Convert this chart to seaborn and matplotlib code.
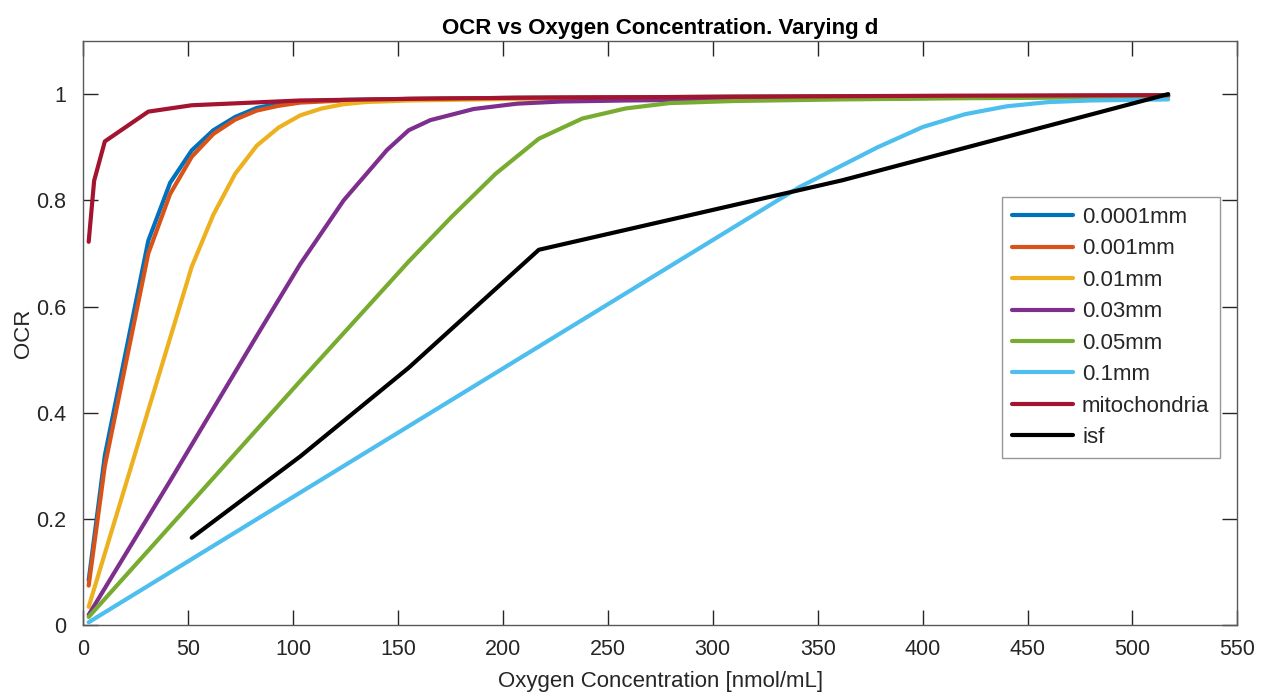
import numpy as np
import pandas as pd
import matplotlib
matplotlib.use("Agg")
import matplotlib.pyplot as plt
import seaborn as sns

# Oxygen concentration [nmol/mL] and normalised OCR for each diffusion distance d
x_0001 = [2.6, 10.3, 31.0, 41.4, 51.7, 62.0, 72.4, 82.7, 93.1, 103.4, 124.1, 155.1, 206.8, 310.2, 413.6, 517.0]
y_0001 = [0.085, 0.32, 0.724, 0.833, 0.894, 0.932, 0.957, 0.974, 0.982, 0.986, 0.989, 0.991, 0.993, 0.995, 0.996, 0.997]

x_001 = [2.6, 10.3, 31.0, 41.4, 51.7, 62.0, 72.4, 82.7, 93.1, 103.4, 124.1, 155.1, 206.8, 310.2, 413.6, 517.0]
y_001 = [0.075, 0.30, 0.70, 0.812, 0.882, 0.925, 0.952, 0.969, 0.978, 0.984, 0.988, 0.991, 0.993, 0.995, 0.996, 0.997]

x_01 = [2.6, 51.7, 62.0, 72.4, 82.7, 93.1, 103.4, 113.7, 124.1, 134.4, 155.1, 206.8, 310.2, 413.6, 517.0]
y_01 = [0.035, 0.675, 0.773, 0.850, 0.903, 0.937, 0.960, 0.973, 0.981, 0.985, 0.988, 0.991, 0.994, 0.995, 0.997]

x_03 = [2.6, 41.4, 82.7, 103.4, 124.1, 144.8, 155.1, 165.4, 186.1, 206.8, 227.5, 258.5, 310.2, 413.6, 517.0]
y_03 = [0.02, 0.272, 0.545, 0.68, 0.80, 0.895, 0.932, 0.951, 0.972, 0.982, 0.986, 0.988, 0.990, 0.993, 0.996]

x_05 = [2.6, 51.7, 103.4, 155.1, 175.8, 196.5, 217.1, 237.8, 258.5, 279.2, 310.2, 361.9, 413.6, 517.0]
y_05 = [0.016, 0.232, 0.46, 0.685, 0.77, 0.85, 0.916, 0.954, 0.973, 0.983, 0.987, 0.990, 0.992, 0.995]

x_1 = [2.6, 103.4, 206.8, 310.2, 341.3, 378.6, 400.0, 420.0, 440.0, 460.0, 480.0, 517.0]
y_1 = [0.006, 0.25, 0.50, 0.75, 0.825, 0.900, 0.938, 0.962, 0.977, 0.985, 0.988, 0.99]

x_mito = [2.6, 5.2, 10.3, 31.0, 51.7, 103.4, 155.1, 206.8, 310.2, 413.6, 517.0]
y_mito = [0.722, 0.837, 0.911, 0.967, 0.979, 0.988, 0.991, 0.993, 0.995, 0.997, 0.998]

x_isf = [51.7, 103.4, 155.1, 217.1, 361.9, 517.0]
y_isf = [0.165, 0.318, 0.485, 0.707, 0.838, 1.0]

series_names = ["0.0001mm", "0.001mm", "0.01mm", "0.03mm", "0.05mm", "0.1mm", "mitochondria", "isf"]
series_x = [x_0001, x_001, x_01, x_03, x_05, x_1, x_mito, x_isf]
series_y = [y_0001, y_001, y_01, y_03, y_05, y_1, y_mito, y_isf]
series_colors = ["#0072BD", "#D95319", "#EDB120", "#7E2F8E", "#77AC30", "#4DBEEE", "#A2142F", "#000000"]

x_ticks = [0, 50, 100, 150, 200, 250, 300, 350, 400, 450, 500, 550]
y_ticks = [0, 0.2, 0.4, 0.6, 0.8, 1.0]
y_tick_labels = ["0", "0.2", "0.4", "0.6", "0.8", "1"]

frames = []
for name, xs, ys in zip(series_names, series_x, series_y):
    frames.append(pd.DataFrame({"conc": xs, "ocr": ys, "d": name}))
df = pd.concat(frames, ignore_index=True)

sns.set_style("white")
plt.rcParams["font.family"] = ["Liberation Sans", "DejaVu Sans"]

fig = plt.figure(figsize=(12.61, 6.92), dpi=100)
ax = fig.add_axes([0.066, 0.0962, 0.9153, 0.8446])

palette = dict(zip(series_names, series_colors))
# one call per series, in order, so later curves are drawn on top
for name in series_names:
    sub = df[df["d"] == name]
    sns.lineplot(data=sub, x="conc", y="ocr", color=palette[name], sort=False,
                 estimator=None, linewidth=3.0, ax=ax, label=name)

ax.set_xlim(0, 550)
ax.set_ylim(0, 1.1)
ax.set_xticks(x_ticks)
ax.set_yticks(y_ticks)
ax.set_yticklabels(y_tick_labels)

edge = "#262626"
for s in ax.spines.values():
    s.set_visible(True)
    s.set_color("#595959")
    s.set_linewidth(1.0)
ax.tick_params(axis="both", which="both", direction="in", length=11, width=1.0,
               color=edge, labelsize=15.5, labelcolor=edge,
               top=True, right=True, bottom=True, left=True)
ax.tick_params(axis="x", pad=10)
ax.tick_params(axis="y", pad=12)

ax.set_xlabel("Oxygen Concentration [nmol/mL]", fontsize=16, color=edge, labelpad=8)
ax.set_ylabel("OCR", fontsize=16, color=edge, labelpad=2)
ax.set_title("OCR vs Oxygen Concentration. Varying d", fontsize=16, fontweight="bold",
             color="#000000", pad=5)

handles, labels = ax.get_legend_handles_labels()
leg = ax.legend(handles, labels, loc="upper right", bbox_to_anchor=(0.9845, 0.733),
                borderaxespad=0, fontsize=16, frameon=True, fancybox=False,
                handlelength=2.75, handletextpad=0.4, labelspacing=0.47,
                borderpad=0.45)
leg.get_frame().set_edgecolor("#7f7f7f")
leg.get_frame().set_linewidth(1.0)
for h in leg.get_lines():
    h.set_linewidth(3.0)

fig.savefig("out.png", dpi=100)
